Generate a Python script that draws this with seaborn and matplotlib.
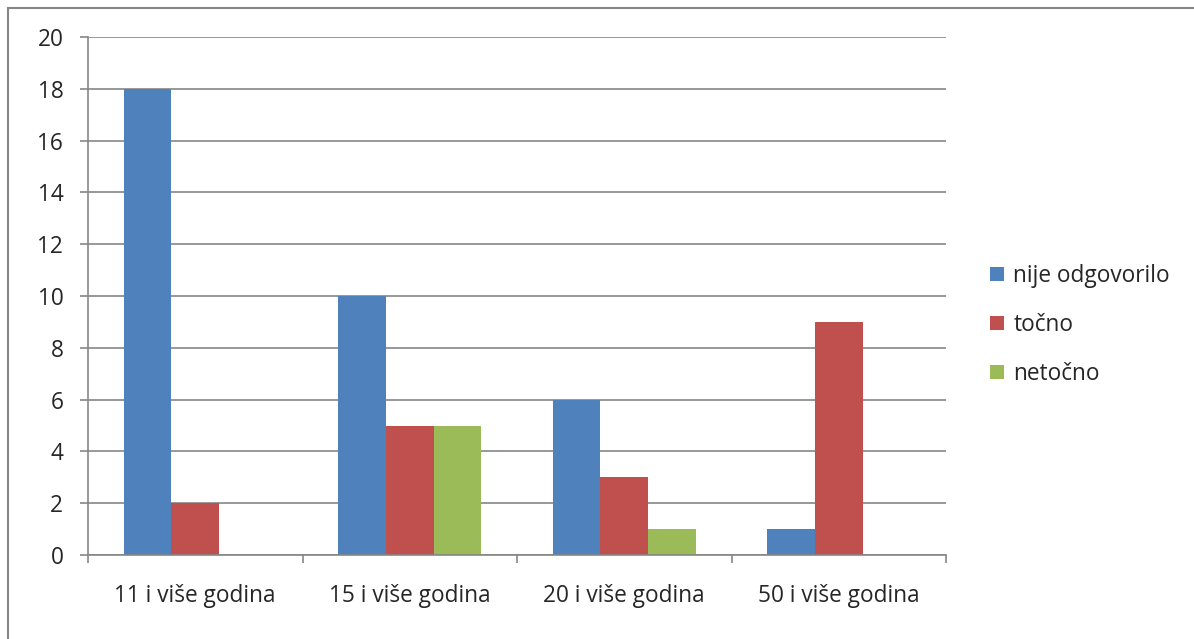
import pandas as pd
import matplotlib.pyplot as plt
import seaborn as sns
from matplotlib.patches import Rectangle

groups = ['11 i više godina', '15 i više godina', '20 i više godina', '50 i više godina']
nije_odgovorilo = [18, 10, 6, 1]
tocno = [2, 5, 3, 9]
netocno = [0, 5, 1, 0]
series = ['nije odgovorilo', 'točno', 'netočno']
colors = ['#4F81BD', '#C0504D', '#9BBB59']

rows = []
for name, vals in zip(series, [nije_odgovorilo, tocno, netocno]):
    for g, v in zip(groups, vals):
        rows.append({'grupa': g, 'odgovor': name, 'broj': v})
df = pd.DataFrame(rows)

sns.set_style('white')
plt.rcParams['font.family'] = ['Open Sans', 'DejaVu Sans']
fs = 16.3

fig = plt.figure(figsize=(11.94, 6.39), dpi=100)
ax = fig.add_axes([88 / 1194, 1 - 555 / 639, (946 - 88) / 1194, (555 - 37) / 639])

sns.barplot(data=df, x='grupa', y='broj', hue='odgovor', hue_order=series,
            palette=colors, width=2 / 3, saturation=1, ax=ax, legend=True)

grid_c = '#868686'
ax.set_ylim(0, 20)
ax.set_xlim(-0.5, 3.5)
ax.set_yticks(range(0, 21, 2))
ax.yaxis.grid(True, color=grid_c, lw=1.2)
ax.set_axisbelow(True)
ax.set_xlabel('')
ax.set_ylabel('')

for s in ['top', 'right']:
    ax.spines[s].set_visible(False)
for s in ['left', 'bottom']:
    ax.spines[s].set_color(grid_c)
    ax.spines[s].set_linewidth(1.2)

ax.tick_params(axis='y', which='major', length=5.8, width=1.2, color=grid_c,
               pad=12, labelsize=fs, left=True)
ax.tick_params(axis='x', which='major', length=0, pad=21, labelsize=fs)
ax.set_xticks([-0.5, 0.5, 1.5, 2.5, 3.5], minor=True)
ax.tick_params(axis='x', which='minor', length=5.8, width=1.2, color=grid_c, bottom=True)

for p in ax.patches:
    p.set_edgecolor('none')

handles, labels = ax.get_legend_handles_labels()
ax.legend(handles, labels, loc='center left', bbox_to_anchor=(981 / 1194, 1 - 325 / 639),
          bbox_transform=fig.transFigure, frameon=False, fontsize=fs,
          handlelength=0.62, handleheight=0.62, handletextpad=0.4, labelspacing=1.1,
          borderaxespad=0)

fig.add_artist(Rectangle((8 / 1194, -0.1), 1.2, 1.1 - 8 / 639,
                         transform=fig.transFigure, fill=False, ec=grid_c, lw=1.5,
                         clip_on=False))

plt.savefig('out.png', dpi=100)
